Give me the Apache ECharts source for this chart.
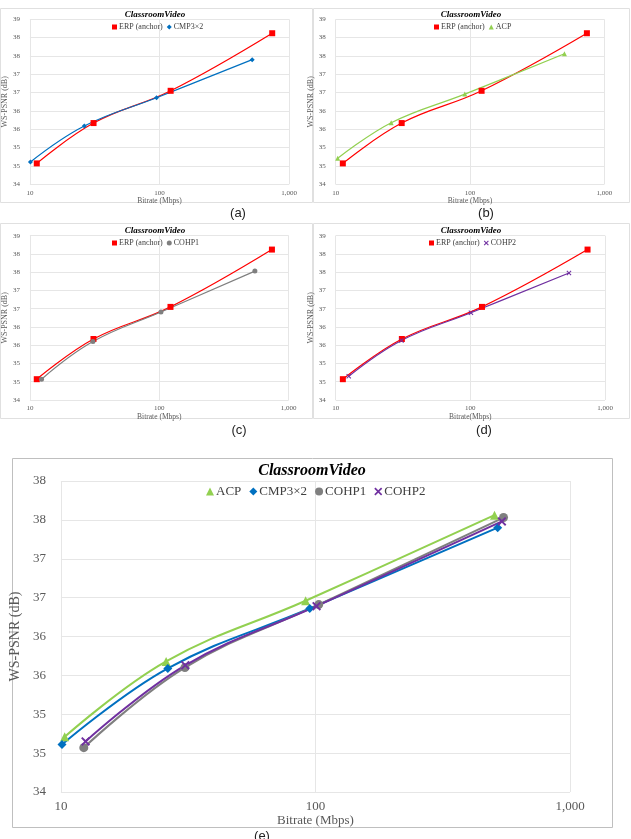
<!DOCTYPE html>
<html lang="en">
<head>
    <meta charset="UTF-8">
    <title>ClassroomVideo WS-PSNR</title>
    <script src="https://cdn.jsdelivr.net/npm/echarts/dist/echarts.min.js"></script>
    <style>
        html, body { margin: 0; padding: 0; background: #fff; }
        #chart { width: 631px; height: 839px; }
    </style>
</head>
<body>
<div id="chart"></div>

<script>
    // bitrate (Mbps) / WS-PSNR (dB)
    var erpRate = [11.3, 31.0, 122, 742];
    var erpPsnr = [34.57, 35.67, 36.55, 38.12];
    var cmpRate = [10.1, 26.3, 95, 520];
    var cmpPsnr = [34.61, 35.59, 36.36, 37.40];
    var acpRate = [10.35, 25.9, 91.5, 505];
    var acpPsnr = [34.71, 35.68, 36.46, 37.56];
    var cohp1Rate = [12.3, 30.7, 103, 548];
    var cohp1Psnr = [34.57, 35.60, 36.41, 37.53];
    var cohp2Rate = [12.5, 30.8, 101, 540];
    var cohp2Psnr = [34.65, 35.63, 36.39, 37.48];

    var xTicks = [10, 100, 1000];
    var titleText = 'ClassroomVideo';

    var serif = "'Liberation Serif', 'DejaVu Serif', serif";
    var xPath = 'path://M0,1.5L1.5,0L5,3.5L8.5,0L10,1.5L6.5,5L10,8.5L8.5,10L5,6.5L1.5,10L0,8.5L3.5,5Z';

    var seriesData = {
        'ERP (anchor)': [erpRate, erpPsnr],
        'CMP3×2': [cmpRate, cmpPsnr],
        'ACP': [acpRate, acpPsnr],
        'COHP1': [cohp1Rate, cohp1Psnr],
        'COHP2': [cohp2Rate, cohp2Psnr]
    };
    var looks = {
        'ERP (anchor)': {color: '#FF0000', symbol: 'rect'},
        'CMP3×2': {color: '#0070C0', symbol: 'diamond'},
        'ACP': {color: '#92D050', symbol: 'triangle'},
        'COHP1': {color: '#7F7F7F', symbol: 'circle'},
        'COHP2': {color: '#7030A0', symbol: xPath}
    };

    // layout of the five panels (pixels)
    var panels = [
        {box: [0, 8, 313, 194], grid: [20, 19.3, 269, 165], yMax: 38.5, title: [155, 10], legend: [112, 23],
            names: ['ERP (anchor)', 'CMP3×2'], tag: ['(a)', 238, 213], xName: 'Bitrate (Mbps)', big: false},
        {box: [313, 8, 317, 194], grid: [335.7, 19.3, 268.6, 165], yMax: 38.5, title: [471, 10], legend: [434, 23],
            names: ['ERP (anchor)', 'ACP'], tag: ['(b)', 486, 213], xName: 'Bitrate (Mbps)', big: false},
        {box: [0, 223, 313, 195], grid: [20.7, 235.7, 268, 164.3], yMax: 38.5, title: [155, 226], legend: [112, 239],
            names: ['ERP (anchor)', 'COHP1'], tag: ['(c)', 239, 430], xName: 'Bitrate (Mbps)', big: false},
        {box: [313, 223, 317, 195], grid: [335.7, 235.7, 269.3, 164.3], yMax: 38.5, title: [471, 226], legend: [429, 239],
            names: ['ERP (anchor)', 'COHP2'], tag: ['(d)', 484, 430], xName: 'Bitrate(Mbps)', big: false},
        {box: [12, 458, 601, 369], grid: [57, 481, 513, 311], yMax: 38, title: [312, 463], legend: [206, 485],
            names: ['ACP', 'CMP3×2', 'COHP1', 'COHP2'], tag: ['(e)', 262, 836], xName: 'Bitrate (Mbps)', big: true}
    ];

    function pairs(name) {
        var d = seriesData[name];
        return d[0].map(function (r, i) { return [r, d[1][i]]; });
    }

    var option = {
        animation: false,
        backgroundColor: '#fff',
        title: [], legend: [], grid: [], xAxis: [], yAxis: [], series: [], graphic: []
    };

    panels.forEach(function (p, k) {
        var big = p.big;
        option.grid.push({left: p.grid[0], top: p.grid[1], width: p.grid[2], height: p.grid[3]});
        option.title.push({
            text: titleText, left: p.title[0], top: p.title[1], textAlign: 'center', padding: 0,
            textStyle: {fontFamily: serif, fontStyle: 'italic', fontWeight: 'bold', fontSize: big ? 16 : 9, color: '#000'}
        });
        option.legend.push({
            left: p.legend[0], top: p.legend[1], padding: 0,
            itemWidth: big ? 8 : 5, itemHeight: big ? 8 : 5, itemGap: big ? 8 : 4,
            data: p.names.map(function (n) { return {name: n, icon: looks[n].symbol}; }),
            textStyle: {fontFamily: serif, fontSize: big ? 13 : 8, color: '#404040', padding: [0, 0, 0, -3]}
        });
        option.xAxis.push({
            type: 'log', logBase: 10, min: xTicks[0], max: xTicks[xTicks.length - 1], gridIndex: k,
            name: p.xName, nameLocation: 'middle', nameGap: big ? 21 : 10,
            nameTextStyle: {fontFamily: serif, fontSize: big ? 13 : 7.5, color: '#595959'},
            axisLine: {show: false}, axisTick: {show: false},
            axisLabel: {
                fontFamily: serif, fontSize: big ? 13 : 7, color: '#595959', margin: big ? 8 : 5,
                formatter: function (v) { return Number(v).toLocaleString('en-US'); }
            },
            splitLine: {show: true, lineStyle: {color: '#E6E6E6', width: 1}}
        });
        option.yAxis.push({
            type: 'value', min: 34, max: p.yMax, interval: 0.5, gridIndex: k,
            name: 'WS-PSNR (dB)', nameLocation: 'middle', nameGap: big ? 30 : 12,
            nameTextStyle: {fontFamily: serif, fontSize: big ? 14 : 8, color: '#595959'},
            axisLine: {show: false}, axisTick: {show: false},
            axisLabel: {
                fontFamily: serif, fontSize: big ? 13 : 7, color: '#595959', margin: big ? 15 : 10,
                formatter: function (v) { return Math.round(v); }
            },
            splitLine: {show: true, lineStyle: {color: '#E6E6E6', width: 1}}
        });
        p.names.forEach(function (n) {
            var lk = looks[n];
            var size = big ? 9 : 5;
            if (n === 'ERP (anchor)') size = 6;
            option.series.push({
                name: n, type: 'line', xAxisIndex: k, yAxisIndex: k,
                data: pairs(n), smooth: 0.4,
                symbol: lk.symbol, symbolSize: size, showAllSymbol: true,
                itemStyle: {color: lk.color},
                lineStyle: {color: lk.color, width: big ? 2 : 1.2}
            });
        });
        // panel frame and (a)-(e) tag
        option.graphic.push({
            type: 'rect', silent: true,
            shape: {x: p.box[0] + 0.5, y: p.box[1] + 0.5, width: p.box[2] - 1, height: p.box[3]},
            style: {fill: 'none', stroke: big ? '#BFBFBF' : '#E0E0E0', lineWidth: 1}
        });
        option.graphic.push({
            type: 'text', silent: true, x: p.tag[1], y: p.tag[2],
            style: {text: p.tag[0], font: "13px 'Liberation Sans', Arial, sans-serif", fill: '#222',
                align: 'center', verticalAlign: 'middle'}
        });
    });

    var chart = echarts.init(document.getElementById('chart'));
    chart.setOption(option);
</script>
</body>
</html>
